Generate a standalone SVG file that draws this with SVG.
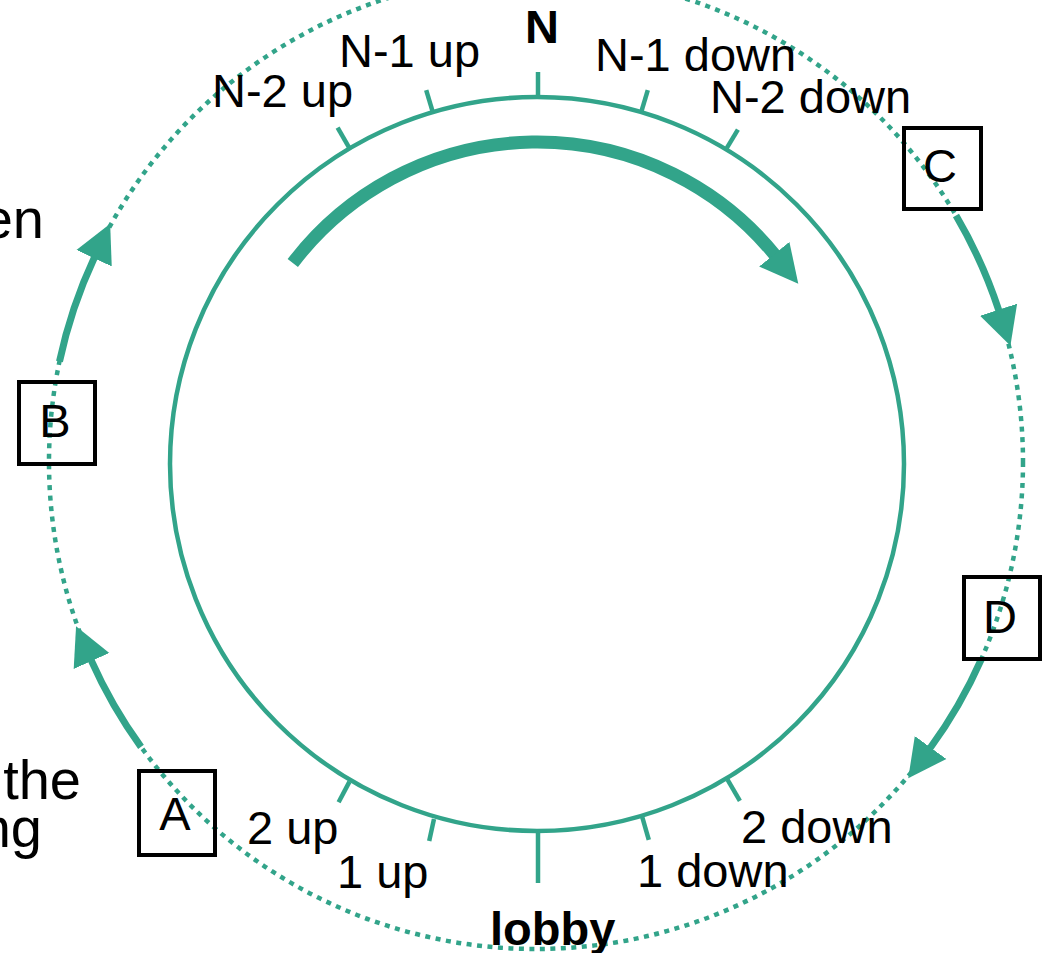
<svg xmlns="http://www.w3.org/2000/svg" width="1044" height="953" viewBox="0 0 1044 953">
  <style>
    .ring { fill: none; stroke: #32a48a; stroke-width: 4.5; }
    .dots { fill: none; stroke: #32a48a; stroke-width: 4.5; stroke-dasharray: 5 5.5; }
    .tick { stroke: #32a48a; stroke-width: 4.5; }
    .flow { fill: none; stroke: #32a48a; stroke-width: 7; }
    .flow-main { fill: none; stroke: #32a48a; stroke-width: 13; }
    .box { fill: none; stroke: #000; stroke-width: 4; }
    text { font-family: "Liberation Sans", Arial, sans-serif; font-size: 47px; fill: #000; }
    .bold { font-weight: bold; }
    .mid { text-anchor: middle; }
    .end { text-anchor: end; }
    .side { font-size: 56px; }
  </style>
  <defs>
    <marker id="head" markerUnits="userSpaceOnUse" markerWidth="40" markerHeight="40" refX="1" refY="20" orient="auto" viewBox="0 0 40 40">
      <path d="M0,0.5 L38,20 L0,39.5 Z" fill="#32a48a"/>
    </marker>
  </defs>

  <rect width="1044" height="953" fill="#fff"/>

  <!-- outer dotted track -->
  <circle class="dots" cx="536" cy="462" r="487"/>

  <!-- floor ring with ticks -->
  <g id="ring">
    <circle class="ring" cx="537" cy="464" r="367"/>
    <line class="tick" x1="538" y1="97" x2="538" y2="72"/>
    <line class="tick" x1="641.2" y1="112.1" x2="647.8" y2="90.1"/>
    <line class="tick" x1="726.0" y1="149.4" x2="737.9" y2="129.7"/>
    <line class="tick" x1="432.8" y1="112.1" x2="426.2" y2="90.1"/>
    <line class="tick" x1="349.0" y1="147.4" x2="337.6" y2="127.7"/>
    <line class="tick" x1="538" y1="831" x2="538" y2="883"/>
    <line class="tick" x1="642.2" y1="816.9" x2="648.8" y2="839.9"/>
    <line class="tick" x1="727.5" y1="779.6" x2="739.9" y2="800.8"/>
    <line class="tick" x1="434.0" y1="818.9" x2="429.2" y2="840.9"/>
    <line class="tick" x1="349.5" y1="781.6" x2="338.6" y2="802.3"/>
  </g>

  <!-- floor labels -->
  <g id="labels">
    <text class="bold mid" x="542" y="43">N</text>
    <text x="339" y="67">N-1 up</text>
    <text x="212" y="107">N-2 up</text>
    <text x="595" y="71">N-1 down</text>
    <text x="710" y="113">N-2 down</text>
    <text x="247" y="844">2 up</text>
    <text x="337" y="888">1 up</text>
    <text x="637" y="887">1 down</text>
    <text x="741" y="843">2 down</text>
    <text class="bold" x="490" y="945">lobby</text>
    <text class="end side" x="44" y="238">en</text>
    <text class="end side" x="81" y="799">the</text>
    <text class="end side" x="42" y="847">ng</text>
  </g>

  <!-- direction arrows -->
  <g id="connectors">
    <path class="flow-main" d="M292.8,263 A307,307 0 0 1 774.9,255" marker-end="url(#head)"/>
    <path class="flow" d="M141.0,746.9 A487,487 0 0 1 91.1,660.1" marker-end="url(#head)"/>
    <path class="flow" d="M59.5,361.6 A487,487 0 0 1 94.5,257.3" marker-end="url(#head)"/>
    <path class="flow" d="M956.0,215.6 A487,487 0 0 1 998.9,310.7" marker-end="url(#head)"/>
    <path class="flow" d="M981.3,659.3 A487,487 0 0 1 930.0,748.3" marker-end="url(#head)"/>
  </g>

  <!-- elevator cars -->
  <g id="car-A">
    <rect class="box" x="139" y="771" width="76" height="84"/>
    <text class="mid" x="175" y="830">A</text>
  </g>
  <g id="car-B">
    <rect class="box" x="19" y="382" width="76" height="82"/>
    <text class="mid" x="55" y="437">B</text>
  </g>
  <g id="car-C">
    <rect class="box" x="904" y="128" width="77" height="81"/>
    <text class="mid" x="940" y="182">C</text>
  </g>
  <g id="car-D">
    <rect class="box" x="964" y="577" width="76" height="82"/>
    <text class="mid" x="1000" y="633">D</text>
  </g>
</svg>
